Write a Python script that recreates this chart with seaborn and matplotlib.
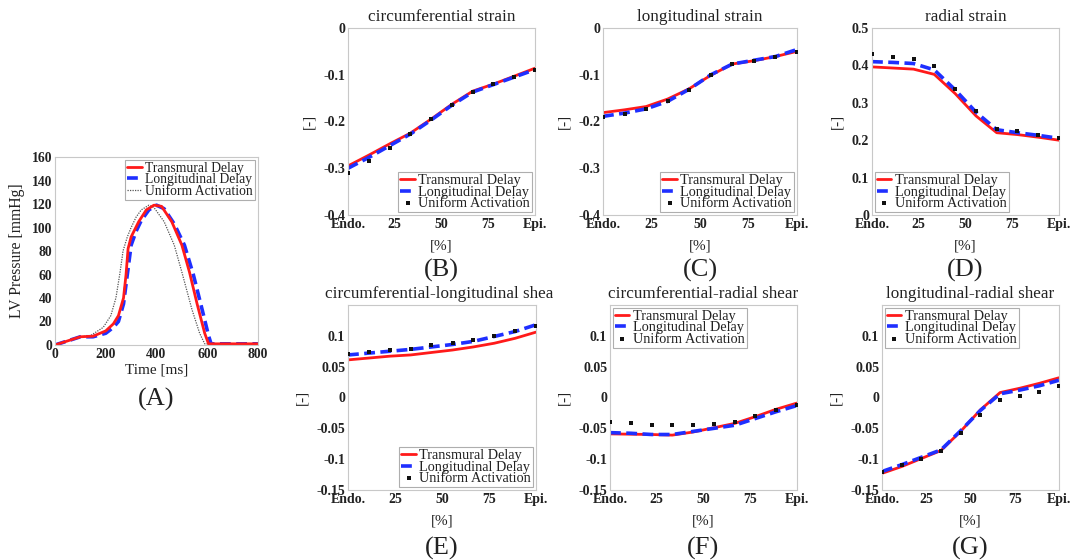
import numpy as np
import pandas as pd
import matplotlib
matplotlib.use("Agg")
import matplotlib.pyplot as plt
from matplotlib.transforms import Bbox
import seaborn as sns

# ---------------- data ----------------
series_names = ["Transmural Delay", "Longitudinal Delay", "Uniform Activation"]

# Panel A: LV pressure
time_tm = [0, 50, 100, 150, 200, 230, 250, 270, 280, 288, 300, 330, 360, 390, 420, 460, 500, 530, 560, 590, 605, 620, 800]
p_tm = [0, 3.5, 7, 7.5, 12, 18, 25, 40, 60, 82, 92, 105, 115, 119, 118, 105, 85, 62, 35, 10, 1, 1, 1]
time_ld = [0, 50, 100, 150, 200, 230, 250, 270, 285, 300, 320, 340, 370, 400, 430, 470, 510, 545, 580, 605, 615, 630, 800]
p_ld = [0, 3.5, 7, 7, 10, 15, 20, 35, 60, 85, 97, 106, 115, 119, 116, 103, 85, 60, 30, 8, 1, 1, 1]
time_ua = [0, 50, 100, 140, 190, 220, 240, 255, 265, 268, 285, 300, 320, 340, 370, 390, 430, 470, 500, 540, 570, 590, 600, 800]
p_ua = [0, 3.5, 7, 8, 15, 25, 40, 60, 75, 80, 92, 100, 109, 115, 119, 117, 105, 85, 62, 30, 10, 1, 1, 1]

# Panels B-G: transmural position [%]
depth = [0, 11.1, 22.2, 33.3, 44.4, 55.6, 66.7, 77.8, 88.9, 100]
xtick_pos = [0, 25, 50, 75, 100]
xtick_labels = ["Endo.", "25", "50", "75", "Epi."]

circ_tm = [-0.295, -0.272, -0.248, -0.225, -0.195, -0.163, -0.135, -0.120, -0.103, -0.086]
circ_ld = [-0.300, -0.277, -0.252, -0.227, -0.197, -0.165, -0.137, -0.121, -0.105, -0.089]
circ_ua = [-0.311, -0.284, -0.256, -0.227, -0.194, -0.164, -0.137, -0.120, -0.105, -0.089]

long_tm = [-0.181, -0.175, -0.168, -0.152, -0.130, -0.101, -0.077, -0.070, -0.061, -0.050]
long_ld = [-0.189, -0.182, -0.173, -0.157, -0.131, -0.100, -0.077, -0.069, -0.061, -0.046]
long_ua = [-0.190, -0.183, -0.174, -0.157, -0.132, -0.101, -0.078, -0.071, -0.063, -0.052]

rad_tm = [0.396, 0.393, 0.390, 0.376, 0.325, 0.265, 0.220, 0.215, 0.208, 0.200]
rad_ld = [0.410, 0.408, 0.405, 0.388, 0.335, 0.275, 0.228, 0.220, 0.213, 0.205]
rad_ua = [0.430, 0.423, 0.417, 0.398, 0.338, 0.279, 0.230, 0.224, 0.215, 0.207]

cl_tm = [0.061, 0.064, 0.067, 0.069, 0.073, 0.077, 0.082, 0.088, 0.096, 0.106]
cl_ld = [0.069, 0.072, 0.075, 0.078, 0.082, 0.086, 0.091, 0.099, 0.107, 0.118]
cl_ua = [0.070, 0.074, 0.077, 0.079, 0.085, 0.089, 0.093, 0.100, 0.108, 0.116]

cr_tm = [-0.059, -0.0595, -0.060, -0.061, -0.056, -0.049, -0.042, -0.031, -0.019, -0.009]
cr_ld = [-0.057, -0.058, -0.060, -0.060, -0.055, -0.050, -0.045, -0.034, -0.023, -0.013]
cr_ua = [-0.040, -0.042, -0.044, -0.045, -0.045, -0.043, -0.039, -0.030, -0.020, -0.012]

lr_tm = [-0.123, -0.112, -0.099, -0.086, -0.055, -0.020, 0.008, 0.015, 0.023, 0.032]
lr_ld = [-0.120, -0.109, -0.097, -0.085, -0.054, -0.021, 0.006, 0.012, 0.019, 0.028]
lr_ua = [-0.120, -0.110, -0.100, -0.087, -0.057, -0.028, -0.004, 0.003, 0.009, 0.018]

# ---------------- style ----------------
sns.set_style("white")
plt.rcParams["font.family"] = ["Liberation Serif", "DejaVu Serif"]
plt.rcParams["xtick.direction"] = "in"
plt.rcParams["ytick.direction"] = "in"

W, H = 1070, 560
fig = plt.figure(figsize=(W / 100, H / 100), dpi=100)


def px_axes(l, t, r, b):
    return fig.add_axes([l / W, 1 - b / H, (r - l) / W, (b - t) / H])


RED = "#ff1a1a"
BLUE = "#1f2fff"
TXT = "#222222"


def style_axes(ax, size=10):
    for s in ax.spines.values():
        s.set_color("#c8c8c8")
        s.set_linewidth(0.8)
    ax.tick_params(axis="both", labelsize=size, colors=TXT, length=3, width=0.6,
                   color="#c8c8c8", pad=2)
    for lab in ax.get_xticklabels() + ax.get_yticklabels():
        lab.set_fontweight("bold")


def add_legend(ax, loc, handles=None, labels=None):
    kw = dict(loc=loc, fontsize=10.3, frameon=True, fancybox=False,
              handlelength=1.0, handletextpad=0.25, borderpad=0.15,
              labelspacing=-0.12, borderaxespad=0.2, markerscale=1.3)
    if handles is not None:
        leg = ax.legend(handles, labels, **kw)
    else:
        leg = ax.legend(**kw)
    leg.get_frame().set_edgecolor("#9a9a9a")
    leg.get_frame().set_linewidth(0.8)
    for t in leg.get_texts():
        t.set_color(TXT)
    return leg


# ---------------- panel A ----------------
axA = px_axes(55, 157, 258, 345)
sns.lineplot(x=time_ua, y=p_ua, ax=axA, color="#555555", lw=0.9,
             linestyle=(0, (1, 1)), label=series_names[2], sort=False)
sns.lineplot(x=time_ld, y=p_ld, ax=axA, color=BLUE, lw=2.6,
             linestyle=(0, (3, 1.5)), label=series_names[1], sort=False)
sns.lineplot(x=time_tm, y=p_tm, ax=axA, color=RED, lw=2.0,
             label=series_names[0], sort=False)
axA.set_xlim(0, 800)
axA.set_ylim(0, 160)
axA.set_xticks([0, 200, 400, 600, 800])
axA.set_yticks(range(0, 161, 20))
style_axes(axA, 9.8)
handles, labels = axA.get_legend_handles_labels()
order = [labels.index(n) for n in series_names]
legA = add_legend(axA, "upper right", [handles[i] for i in order], [labels[i] for i in order])
for t in legA.get_texts():
    t.set_fontsize(9.8)
axA.set_xlabel("Time [ms]", fontsize=11, color=TXT, labelpad=2)
axA.set_ylabel("LV Pressure [mmHg]", fontsize=11.3, color=TXT, labelpad=5)
fig.text(156 / W, 1 - 399 / H, "(A)", fontsize=19, ha="center", va="center", color=TXT)

# ---------------- panels B-G ----------------
panels = [
    ("circumferential strain", circ_tm, circ_ld, circ_ua, (348, 28, 535, 215),
     (-0.4, 0), [-0.4, -0.3, -0.2, -0.1, 0], ["-0.4", "-0.3", "-0.2", "-0.1", "0"], "lower right", "(B)", 0),
    ("longitudinal strain", long_tm, long_ld, long_ua, (603, 28, 797, 215),
     (-0.4, 0), [-0.4, -0.3, -0.2, -0.1, 0], ["-0.4", "-0.3", "-0.2", "-0.1", "0"], "lower right", "(C)", 0),
    ("radial strain", rad_tm, rad_ld, rad_ua, (872, 28, 1059, 215),
     (0, 0.5), [0, 0.1, 0.2, 0.3, 0.4, 0.5], ["0", "0.1", "0.2", "0.3", "0.4", "0.5"], "lower left", "(D)", 0),
    ("circumferential-longitudinal shear", cl_tm, cl_ld, cl_ua, (348, 305, 536, 490),
     (-0.15, 0.15), [-0.15, -0.1, -0.05, 0, 0.05, 0.1], ["-0.15", "-0.1", "-0.05", "0", "0.05", "0.1"], "lower right", "(E)", 1),
    ("circumferential-radial shear", cr_tm, cr_ld, cr_ua, (610, 305, 797, 490),
     (-0.15, 0.15), [-0.15, -0.1, -0.05, 0, 0.05, 0.1], ["-0.15", "-0.1", "-0.05", "0", "0.05", "0.1"], "upper left", "(F)", 1),
    ("longitudinal-radial shear", lr_tm, lr_ld, lr_ua, (882, 305, 1059, 490),
     (-0.15, 0.15), [-0.15, -0.1, -0.05, 0, 0.05, 0.1], ["-0.15", "-0.1", "-0.05", "0", "0.05", "0.1"], "upper left", "(G)", 1),
]

for title, tm, ld, ua, rect, ylim, yt, ytl, loc, tag, row in panels:
    ax = px_axes(*rect)
    sns.lineplot(x=depth, y=tm, ax=ax, color=RED, lw=2.0, label=series_names[0])
    sns.lineplot(x=depth, y=ld, ax=ax, color=BLUE, lw=2.6,
                 linestyle=(0, (3, 1.5)), label=series_names[1])
    sns.scatterplot(x=depth, y=ua, ax=ax, color="#111111", marker="s", s=5,
                    linewidth=0, label=series_names[2], zorder=5)
    ax.set_xlim(0, 100)
    ax.set_ylim(*ylim)
    ax.set_xticks(xtick_pos)
    ax.set_xticklabels(xtick_labels)
    ax.set_yticks(yt)
    ax.set_yticklabels(ytl)
    style_axes(ax)
    add_legend(ax, loc)
    title_obj = ax.set_title(title, fontsize=12.3, color=TXT, pad=5)
    if tag == "(E)":
        # the reference crops this title at the neighbouring panel
        title_obj.set_clip_on(True)
        title_obj.set_clip_box(Bbox([[0, 0], [553, H]]))
    ax.set_xlabel("[%]", fontsize=11, color=TXT, labelpad=6)
    ax.set_ylabel("[-]", fontsize=11, color=TXT, labelpad=6)
    cx = (rect[0] + rect[2]) / 2
    ty = 270 if row == 0 else 548
    fig.text(cx / W, 1 - ty / H, tag, fontsize=19, ha="center", va="center", color=TXT)

fig.savefig("out.png", dpi=100)
